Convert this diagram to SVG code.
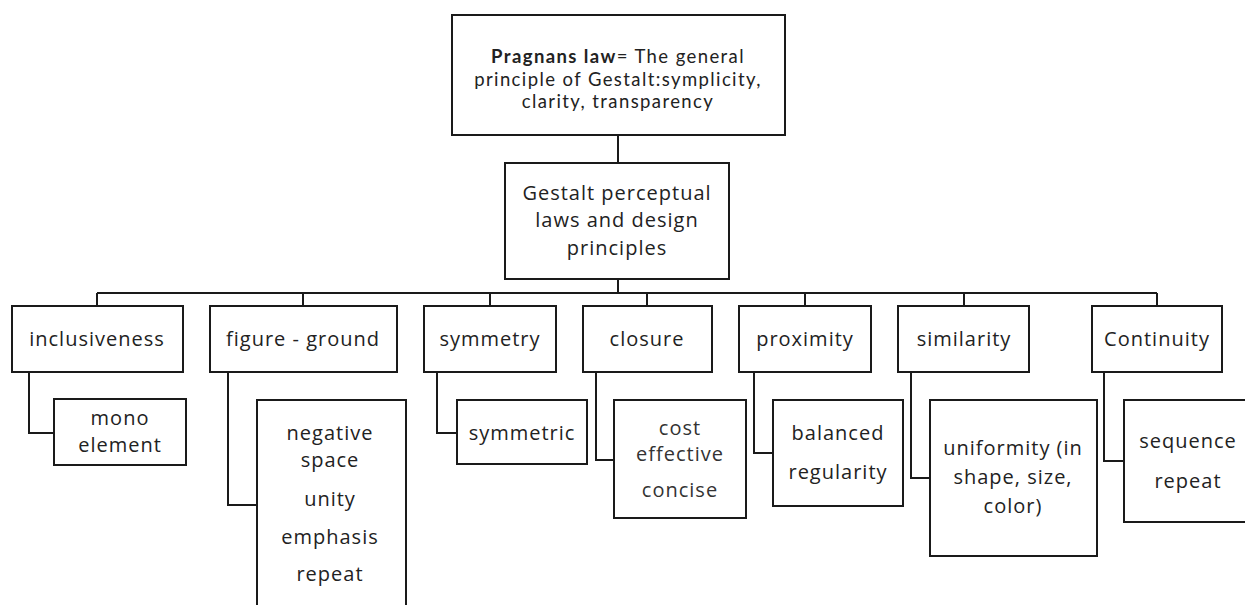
<svg xmlns="http://www.w3.org/2000/svg" width="1245" height="605" viewBox="0 0 1245 605">
<style>
.box{fill:#fff;stroke:#1a1a1a;stroke-width:2}
.ln{fill:none;stroke:#1a1a1a;stroke-width:2}
text{font-family:"Open Sans",Lato,"Liberation Sans",sans-serif;font-size:20px;letter-spacing:1px;fill:#222;text-anchor:middle}
.top{font-family:Lato,"Open Sans","Liberation Sans",sans-serif;font-size:18.5px;letter-spacing:1.4px}
.lt{fill:#333}
</style>
<rect width="1245" height="605" fill="#fff"/>
<g id="connectors">
<path class="ln" d="M618 135V163"/>
<path class="ln" d="M618 279V293M97 293H1157M97 293V306M303 293V306M490 293V306M647 293V306M805 293V306M964 293V306M1157 293V306"/>
<path class="ln" d="M29 372V433H54"/>
<path class="ln" d="M228 372V505H257"/>
<path class="ln" d="M437 372V433H457"/>
<path class="ln" d="M596 372V460H614"/>
<path class="ln" d="M754 372V453H773"/>
<path class="ln" d="M911 372V478H930"/>
<path class="ln" d="M1104 372V461H1124"/>
</g>
<g id="pragnans">
<rect class="box" x="452" y="15" width="333" height="120"/>
<text class="top" x="618" y="63"><tspan font-weight="bold">Pragnans law</tspan>= The general</text>
<text class="top" x="618" y="85.5">principle of Gestalt:symplicity,</text>
<text class="top" x="618" y="108">clarity, transparency</text>
</g>
<g id="gestalt">
<rect class="box" x="505" y="163" width="224" height="116"/>
<text x="617" y="200">Gestalt perceptual</text>
<text x="617" y="227">laws and design</text>
<text x="617" y="255">principles</text>
</g>
<g id="inclusiveness">
<rect class="box" x="12" y="306" width="171" height="66"/>
<text x="97" y="346">inclusiveness</text>
</g>
<g id="figure-ground">
<rect class="box" x="210" y="306" width="187" height="66"/>
<text x="303" y="346">figure - ground</text>
</g>
<g id="symmetry">
<rect class="box" x="424" y="306" width="132" height="66"/>
<text x="490" y="346">symmetry</text>
</g>
<g id="closure">
<rect class="box" x="583" y="306" width="129" height="66"/>
<text x="647" y="346">closure</text>
</g>
<g id="proximity">
<rect class="box" x="739" y="306" width="132" height="66"/>
<text x="805" y="346">proximity</text>
</g>
<g id="similarity">
<rect class="box" x="898" y="306" width="131" height="66"/>
<text x="964" y="346">similarity</text>
</g>
<g id="continuity">
<rect class="box" x="1092" y="306" width="130" height="66"/>
<text x="1157" y="346">Continuity</text>
</g>
<g id="mono-element">
<rect class="box" x="54" y="399" width="132" height="66"/>
<text x="120" y="425">mono</text>
<text x="120" y="452">element</text>
</g>
<g id="negative-space">
<rect class="box" x="257" y="400" width="149" height="220"/>
<text x="330" y="440">negative</text>
<text x="330" y="467">space</text>
<text x="330" y="506">unity</text>
<text x="330" y="544">emphasis</text>
<text x="330" y="581">repeat</text>
</g>
<g id="symmetric">
<rect class="box" x="457" y="400" width="130" height="64"/>
<text x="522" y="440">symmetric</text>
</g>
<g id="cost-effective">
<rect class="box" x="614" y="400" width="132" height="118"/>
<text class="lt" x="680" y="435" letter-spacing="0.3">cost</text>
<text class="lt" x="680" y="461" letter-spacing="0.3">effective</text>
<text class="lt" x="680" y="497" letter-spacing="0.3">concise</text>
</g>
<g id="balanced">
<rect class="box" x="773" y="400" width="130" height="106"/>
<text x="838" y="440">balanced</text>
<text x="838" y="479">regularity</text>
</g>
<g id="uniformity">
<rect class="box" x="930" y="400" width="167" height="156"/>
<text x="1013" y="455">uniformity (in</text>
<text x="1013" y="484">shape, size,</text>
<text x="1013" y="513">color)</text>
</g>
<g id="sequence">
<rect class="box" x="1124" y="400" width="140" height="122"/>
<text x="1188" y="448">sequence</text>
<text x="1188" y="488">repeat</text>
</g>
</svg>
